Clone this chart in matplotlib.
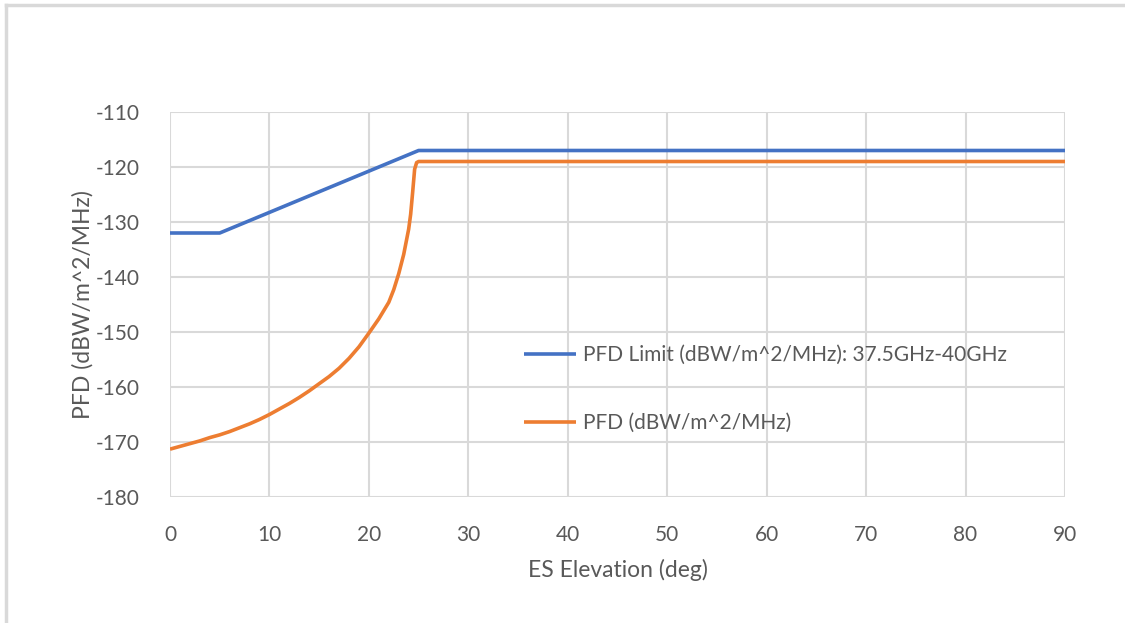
import matplotlib
matplotlib.use('Agg')
import matplotlib.pyplot as plt
from matplotlib.lines import Line2D

# PFD limit, 37.5-40 GHz band
elev_limit = [0, 5, 25, 90]
pfd_limit = [-132, -132, -117, -117]

# computed PFD vs. elevation
elev_pfd = [0, 1, 2, 3, 4, 5, 6, 7, 8, 9, 10, 11, 12, 13, 14, 15, 16, 17, 18,
            19, 20, 21, 22, 22.5, 23, 23.5, 24, 24.2, 24.4, 24.6, 24.8, 25, 90]
pfd = [-171.3, -170.8, -170.3, -169.8, -169.2, -168.7, -168.1, -167.4, -166.7,
       -165.9, -165.0, -164.0, -163.0, -161.9, -160.7, -159.4, -158.1, -156.6,
       -154.8, -152.7, -150.2, -147.6, -144.6, -142.3, -139.4, -135.9, -131.3,
       -128.6, -124.6, -120.4, -119.2, -119, -119]

x_ticks = list(range(0, 91, 10))
y_ticks = list(range(-180, -109, 10))

BLUE = '#4472C4'
ORANGE = '#ED7D31'
TEXT = '#595959'
GRID = '#D9D9D9'

plt.rcParams['font.family'] = ['Lato', 'DejaVu Sans']
plt.rcParams['axes.unicode_minus'] = False

fig = plt.figure(figsize=(11.25, 6.23), dpi=100)
ax = fig.add_axes([170 / 1125, 1 - 497 / 623, 895 / 1125, 385 / 623])

ax.plot(elev_limit, pfd_limit, color=BLUE, lw=2.6, solid_capstyle='butt',
        label='PFD Limit (dBW/m^2/MHz): 37.5GHz-40GHz')
ax.plot(elev_pfd, pfd, color=ORANGE, lw=2.6, solid_capstyle='butt',
        solid_joinstyle='round', label='PFD (dBW/m^2/MHz)')

ax.set_xlim(0, 90)
ax.set_ylim(-180, -110)
ax.set_xticks(x_ticks)
ax.set_yticks(y_ticks)
ax.grid(True, color=GRID, lw=1.5)
ax.set_axisbelow(True)
for s in ax.spines.values():
    s.set_visible(False)
ax.tick_params(length=0, labelsize=15, labelcolor=TEXT)
ax.tick_params(axis='y', pad=22)
ax.tick_params(axis='x', pad=20)

ax.set_xlabel('ES Elevation (deg)', fontsize=16.5, color=TEXT)
ax.set_ylabel('PFD (dBW/m^2/MHz)', fontsize=16.5, color=TEXT)
ax.xaxis.set_label_coords(0.5, (497 - 570) / 385)
ax.xaxis.label.set_verticalalignment('center')
ax.yaxis.set_label_coords((83 - 170) / 895, 0.5)
ax.yaxis.label.set_verticalalignment('center')

ax.legend(loc='center left', bbox_to_anchor=(524 / 1125, 1 - 389 / 623),
          bbox_transform=fig.transFigure, frameon=False, fontsize=15,
          labelcolor=TEXT, handlelength=2.5, handletextpad=0.35,
          labelspacing=2.3, borderpad=0, borderaxespad=0)

# outer chart frame
fig.add_artist(Line2D([6 / 1125, 1], [1 - 5 / 623] * 2, color=GRID, lw=2.5))
fig.add_artist(Line2D([6 / 1125] * 2, [0, 1 - 5 / 623], color=GRID, lw=2.5))

fig.savefig('out.png', dpi=100)
